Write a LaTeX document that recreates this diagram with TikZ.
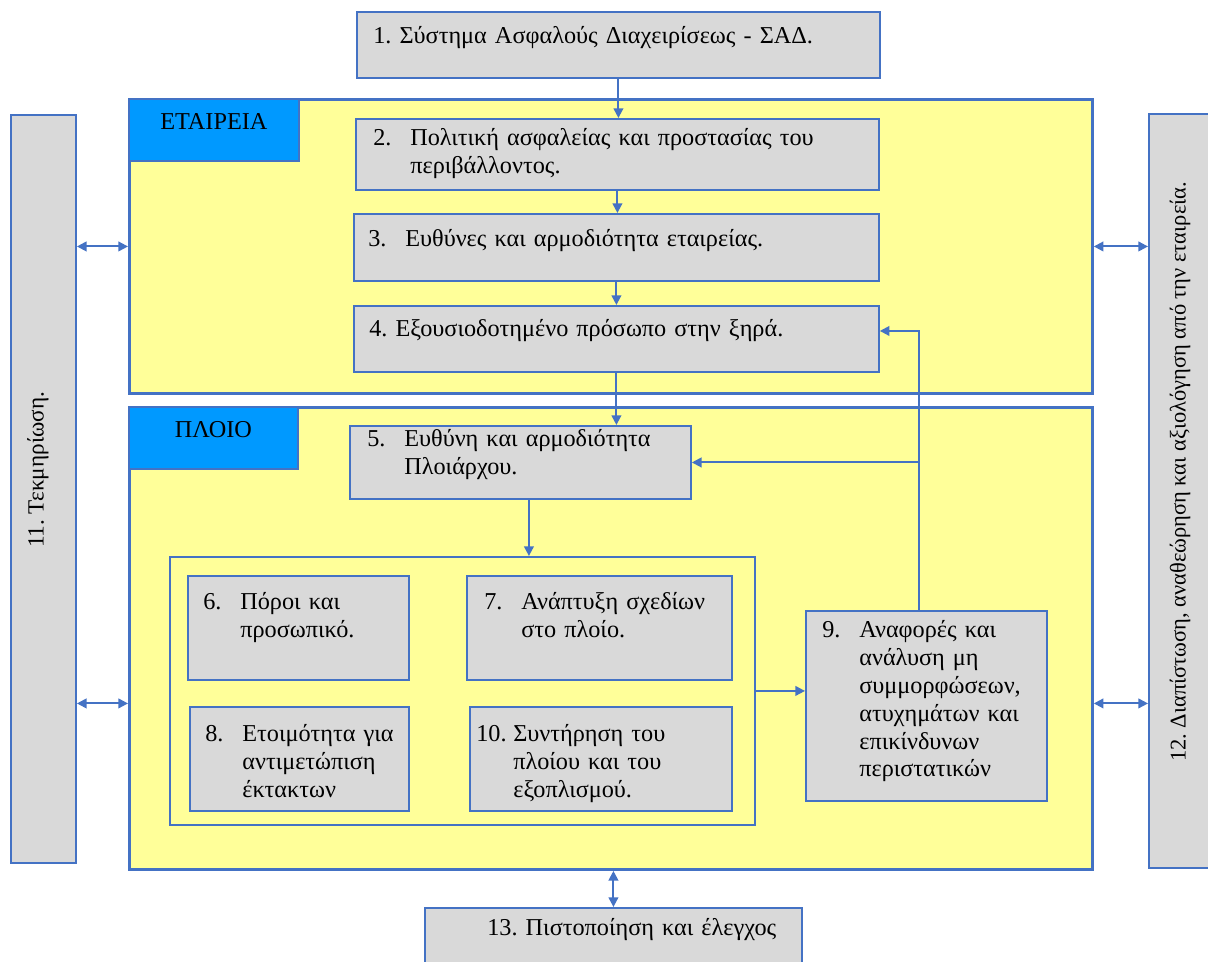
\documentclass[tikz,border=0pt]{standalone}
\usepackage{fontspec}
\setmainfont{Liberation Serif}
\frenchspacing
\usetikzlibrary{arrows.meta, positioning, calc}
\definecolor{cblue}{HTML}{4472C4}
\definecolor{cyellow}{HTML}{FFFF99}
\definecolor{cgrey}{HTML}{D9D9D9}
\definecolor{ctab}{HTML}{0099FF}
\newcommand{\itemnr}[1]{\makebox[0.74cm][l]{#1}}
\newcommand{\itemind}{\hspace*{0.74cm}}
\tikzset{
  every picture/.style={font=\fontsize{13.8}{15.8}\selectfont},
  box/.style={draw=cblue, fill=cgrey, line width=1.1pt, anchor=north west, inner sep=0pt},
  area/.style={draw=cblue, fill=cyellow, line width=1.7pt, anchor=north west, inner sep=0pt},
  tab/.style={draw=cblue, fill=ctab, line width=1pt, anchor=north west, inner sep=0pt, text height=0.62cm, text depth=0.62cm},
  txt/.style={anchor=base west, inner sep=0pt, text width=11cm, align=left},
  arrow/.style={-{Triangle[length=5.5pt, width=5.5pt]}, draw=cblue, line width=1.1pt},
  biarrow/.style={{Triangle[length=5.5pt, width=5.5pt]}-{Triangle[length=5.5pt, width=5.5pt]}, draw=cblue, line width=1.1pt},
}

\begin{document}
\begin{tikzpicture}[x=0.02cm, y=-0.02cm]
  \useasboundingbox (0,0) rectangle (1208,962);
  % company and ship areas
  \node[area, minimum width=19.26cm, minimum height=5.88cm] (comp) at (128,98) {};
  \node[area, minimum width=19.26cm, minimum height=9.24cm] (ship) at (128,406) {};
  \node[tab, minimum width=3.4cm] (tcomp) at (128,98) {ΕΤΑΙΡΕΙΑ};
  \node[tab, minimum width=3.38cm] (tship) at (128,406) {ΠΛΟΙΟ};
  \node[area, line width=1.1pt, minimum width=11.7cm, minimum height=5.36cm] (grp) at (169,556) {};
  % boxes
  \node[box, minimum width=10.46cm, minimum height=1.32cm] (b1) at (356,11) {};
  \node[box, minimum width=10.46cm, minimum height=1.42cm] (b2) at (355,118) {};
  \node[box, minimum width=10.5cm, minimum height=1.34cm] (b3) at (353,213) {};
  \node[box, minimum width=10.5cm, minimum height=1.32cm] (b4) at (353,305) {};
  \node[box, minimum width=6.82cm, minimum height=1.46cm] (b5) at (349,425) {};
  \node[box, minimum width=4.42cm, minimum height=2.08cm] (b6) at (187,575) {};
  \node[box, minimum width=5.3cm, minimum height=2.08cm] (b7) at (466,575) {};
  \node[box, minimum width=4.38cm, minimum height=2.08cm] (b8) at (189,706) {};
  \node[box, minimum width=5.24cm, minimum height=2.08cm] (b10) at (469,706) {};
  \node[box, minimum width=4.82cm, minimum height=3.8cm] (b9) at (805,610) {};
  \node[box, minimum width=1.3cm, minimum height=14.96cm] (b11) at (10,114) {};
  \node[box, minimum width=1.4cm, minimum height=15.08cm] (b12) at (1148,113) {};
  \node[box, minimum width=7.54cm, minimum height=1.36cm] (b13) at (424,907) {};
  % texts
  \node[txt] (t1) at ([shift={(17,33)}]b1.north west) {1. Σύστημα Ασφαλούς Διαχειρίσεως - ΣΑΔ.};
  \node[txt] (t2) at ([shift={(18,28)}]b2.north west) {\itemnr{2.}Πολιτική ασφαλείας και προστασίας του\\\itemind περιβάλλοντος.};
  \node[txt] (t3) at ([shift={(15,34)}]b3.north west) {\itemnr{3.}Ευθύνες και αρμοδιότητα εταιρείας.};
  \node[txt] (t4) at ([shift={(16,32)}]b4.north west) {4. Εξουσιοδοτημένο πρόσωπο στην ξηρά.};
  \node[txt] (t5) at ([shift={(18,22)}]b5.north west) {\itemnr{5.}Ευθύνη και αρμοδιότητα\\\itemind Πλοιάρχου.};
  \node[txt] (t6) at ([shift={(16,35)}]b6.north west) {\itemnr{6.}Πόροι και\\\itemind προσωπικό.};
  \node[txt] (t7) at ([shift={(18,35)}]b7.north west) {\itemnr{7.}Ανάπτυξη σχεδίων\\\itemind στο πλοίο.};
  \node[txt] (t8) at ([shift={(16,36)}]b8.north west) {\itemnr{8.}Ετοιμότητα για\\\itemind αντιμετώπιση\\\itemind έκτακτων};
  \node[txt] (t10) at ([shift={(7,36)}]b10.north west) {\itemnr{10.}Συντήρηση του\\\itemind πλοίου και του\\\itemind εξοπλισμού.};
  \node[txt] (t9) at ([shift={(17,28)}]b9.north west) {\itemnr{9.}Αναφορές και\\\itemind ανάλυση μη\\\itemind συμμορφώσεων,\\\itemind ατυχημάτων και\\\itemind επικίνδυνων\\\itemind περιστατικών};
  \node[txt] (t13) at ([shift={(63,28)}]b13.north west) {13. Πιστοποίηση και έλεγχος};
  \node[rotate=90, font=\fontsize{13.2}{15.8}\selectfont] (t11) at (38,470) {11. Τεκμηρίωση.};
  \node[rotate=90, font=\fontsize{12.8}{15.8}\selectfont] (t12) at (1180,472) {12. Διαπίστωση, αναθεώρηση και αξιολόγηση από την εταιρεία.};
  % connectors
  \draw[arrow] (b1.south) -- (b1.south |- b2.north);
  \draw[arrow] (b2.south) -- (b2.south |- b3.north);
  \draw[arrow] (b3.south) -- (b3.south |- b4.north);
  \draw[arrow] (b4.south) -- (b4.south |- b5.north);
  \coordinate (c5) at ([xshift=0.17cm]b5.south);
  \draw[arrow] (c5) -- (c5 |- grp.north);
  \draw[arrow] (grp.east) -- (grp.east -| b9.west);
  \coordinate (c9) at ([xshift=-0.15cm]b9.north);
  \draw[arrow] (c9) |- ([yshift=0.16cm]b4.east);
  \draw[arrow] (c9 |- b5.east) -- (b5.east);
  \coordinate (s11) at ([yshift=-1.3cm]ship.west);
  \coordinate (s12) at ([yshift=-1.3cm]ship.east);
  \draw[biarrow] (b11.east |- comp.west) -- (comp.west);
  \draw[biarrow] (b11.east |- s11) -- (s11);
  \draw[biarrow] (comp.east) -- (comp.east -| b12.west);
  \draw[biarrow] (s12) -- (s12 -| b12.west);
  \draw[biarrow] (b13.north) -- (b13.north |- ship.south);
\end{tikzpicture}
\end{document}
